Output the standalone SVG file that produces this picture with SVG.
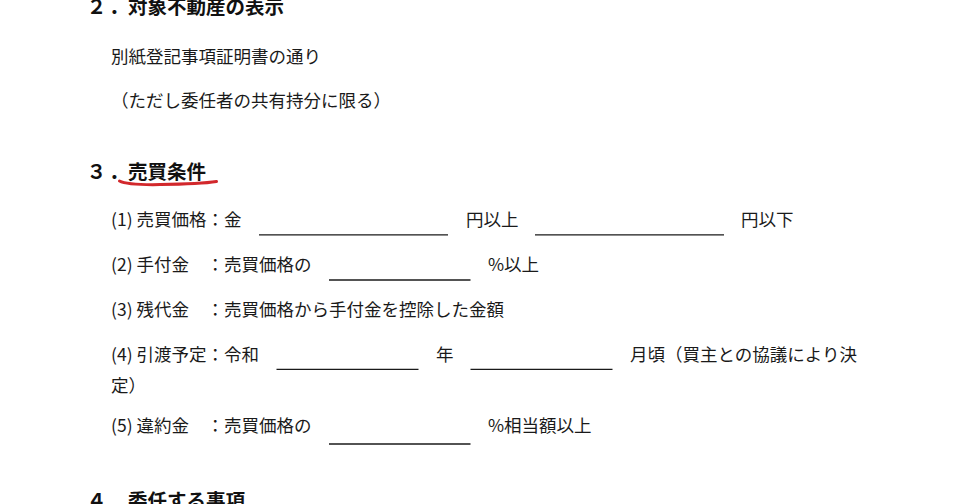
<svg xmlns="http://www.w3.org/2000/svg" width="969" height="504" viewBox="0 0 969 504">
<style>
text{font-family:"Noto Sans CJK JP","Noto Sans CJK SC",sans-serif;fill:#1a1a1a}
.h{font-size:19.5px;font-weight:700;fill:#111}
.b{font-size:17.5px}
.u{stroke:#1a1a1a;stroke-width:1.3;fill:none}
</style>
<rect width="969" height="504" fill="#ffffff"/>
<g id="heading2">
<text class="h" y="13.8"><tspan x="86.7">２</tspan><tspan x="109">．</tspan><tspan x="128">対象不動産の表示</tspan></text>
</g>
<g id="section2-body">
<text class="b" x="111" y="62.5">別紙登記事項証明書の通り</text>
<text class="b" x="111" y="106.5">（ただし委任者の共有持分に限る）</text>
</g>
<g id="heading3">
<text class="h" y="178.5"><tspan x="86.7">３</tspan><tspan x="109">．</tspan><tspan x="128">売買条件</tspan></text>
<path d="M119.5,181 C125,184 136,185 160,184.6 C185,184.3 203,183.8 216.5,181.6" stroke="#d2282c" stroke-width="3" fill="none" stroke-linecap="round"/>
</g>
<g id="item1">
<text class="b" x="111" y="225.5">(1) 売買価格：金</text>
<line class="u" x1="259" y1="234.8" x2="448" y2="234.8"/>
<text class="b" x="466" y="225.5">円以上</text>
<line class="u" x1="535" y1="234.8" x2="724" y2="234.8"/>
<text class="b" x="741" y="225.5">円以下</text>
</g>
<g id="item2">
<text class="b" x="111" y="270.5">(2) 手付金　：売買価格の</text>
<line class="u" x1="329" y1="280" x2="470.5" y2="280"/>
<text class="b" x="488" y="270.5">%以上</text>
</g>
<g id="item3">
<text class="b" x="111" y="316">(3) 残代金　：売買価格から手付金を控除した金額</text>
</g>
<g id="item4">
<text class="b" x="111" y="360.5">(4) 引渡予定：令和</text>
<line class="u" x1="276.5" y1="369.3" x2="418.5" y2="369.3"/>
<text class="b" x="436" y="360.5">年</text>
<line class="u" x1="470.5" y1="369.3" x2="612.5" y2="369.3"/>
<text class="b" x="630" y="360.5">月頃（買主との協議により決</text>
<text class="b" x="111" y="392">定）</text>
</g>
<g id="item5">
<text class="b" x="111" y="432">(5) 違約金　：売買価格の</text>
<line class="u" x1="329" y1="444" x2="470.5" y2="444"/>
<text class="b" x="488" y="432">%相当額以上</text>
</g>
<g id="heading4">
<text class="h" y="507.5"><tspan x="86.7">４</tspan><tspan x="109">．</tspan><tspan x="128">委任する事項</tspan></text>
</g>
</svg>
